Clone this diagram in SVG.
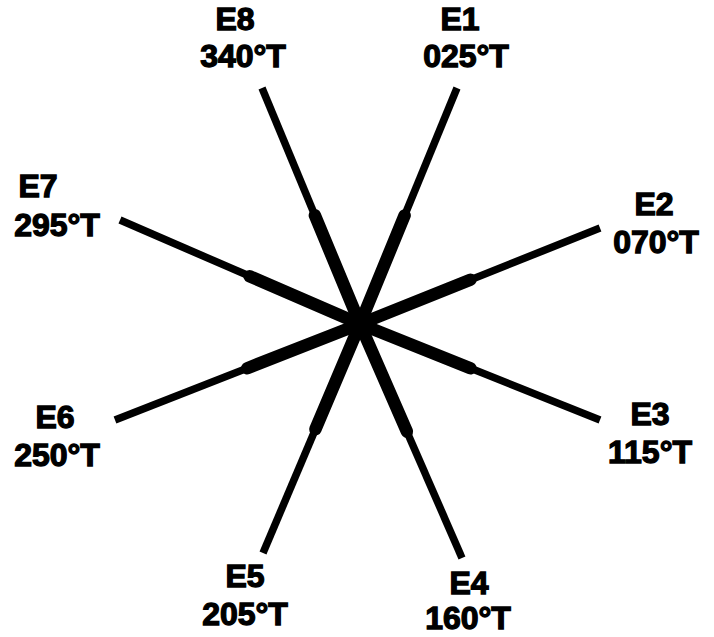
<svg xmlns="http://www.w3.org/2000/svg" width="714" height="637" viewBox="0 0 714 637">
<style>
.thin{stroke:#000;stroke-width:7.5;stroke-linecap:butt;fill:none}
.thick{stroke:#000;stroke-width:12.5;stroke-linecap:round;fill:none}
text{font-family:"Liberation Sans",Arial,sans-serif;font-weight:bold;font-size:32px;fill:#000;stroke:#000;stroke-width:1.3;text-anchor:middle}
</style>
<rect width="714" height="637" fill="#fff"/>
<g id="connectors">
<line class="thin" x1="360" y1="324" x2="457" y2="88"/>
<line class="thin" x1="360" y1="324" x2="600" y2="228"/>
<line class="thin" x1="360" y1="324" x2="600" y2="420"/>
<line class="thin" x1="360" y1="324" x2="462" y2="558"/>
<line class="thin" x1="360" y1="324" x2="263" y2="553"/>
<line class="thin" x1="360" y1="324" x2="115" y2="420"/>
<line class="thin" x1="360" y1="324" x2="120" y2="220"/>
<line class="thin" x1="360" y1="324" x2="262" y2="88"/>
<line class="thick" x1="360" y1="324" x2="404.6" y2="215.4"/>
<line class="thick" x1="360" y1="324" x2="470.4" y2="279.8"/>
<line class="thick" x1="360" y1="324" x2="470.4" y2="368.2"/>
<line class="thick" x1="360" y1="324" x2="406.9" y2="431.6"/>
<line class="thick" x1="360" y1="324" x2="315.4" y2="429.3"/>
<line class="thick" x1="360" y1="324" x2="247.3" y2="368.2"/>
<line class="thick" x1="360" y1="324" x2="249.6" y2="276.2"/>
<line class="thick" x1="360" y1="324" x2="314.9" y2="215.4"/>
<circle cx="360" cy="324" r="9" fill="#000"/>
</g>
<g id="E1"><text x="460" y="30">E1</text><text x="466" y="67">025°T</text></g>
<g id="E2"><text x="654" y="215">E2</text><text x="656" y="253">070°T</text></g>
<g id="E3"><text x="650" y="425">E3</text><text x="650" y="463">115°T</text></g>
<g id="E4"><text x="469" y="594">E4</text><text x="468" y="629">160°T</text></g>
<g id="E5"><text x="245" y="587">E5</text><text x="245" y="625">205°T</text></g>
<g id="E6"><text x="55" y="428">E6</text><text x="57" y="466">250°T</text></g>
<g id="E7"><text x="38" y="197">E7</text><text x="57" y="236">295°T</text></g>
<g id="E8"><text x="235" y="30">E8</text><text x="243" y="67">340°T</text></g>
</svg>
